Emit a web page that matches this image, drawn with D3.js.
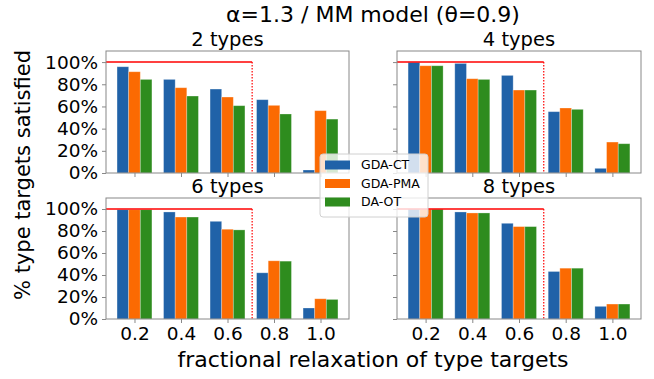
<!DOCTYPE html>
<html>
<head>
<meta charset="utf-8">
<script src="https://cdn.jsdelivr.net/npm/d3@7"></script>
<style>
  body { margin: 0; background: #fff; }
  text { font-family: "DejaVu Sans", sans-serif; }
</style>
</head>
<body>
<div id="chart"></div>
<script>
var W = 654, H = 379;

// data
var relax = ['0.2', '0.4', '0.6', '0.8', '1.0'];
var methods = ['GDA-CT', 'GDA-PMA', 'DA-OT'];
var colors = ['#2062a8', '#fb6a02', '#2e8c1e'];
var panelTitles = ['2 types', '4 types', '6 types', '8 types'];
var yTicks = [0, 0.2, 0.4, 0.6, 0.8, 1.0];

var gdaCT  = [[0.958, 0.844, 0.757, 0.661, 0.027],
              [0.998, 0.988, 0.880, 0.553, 0.042],
              [0.994, 0.973, 0.888, 0.420, 0.100],
              [0.998, 0.973, 0.870, 0.432, 0.115]];
var gdaPMA = [[0.913, 0.769, 0.685, 0.610, 0.562],
              [0.967, 0.850, 0.748, 0.586, 0.279],
              [0.994, 0.927, 0.816, 0.529, 0.184],
              [0.998, 0.964, 0.840, 0.462, 0.136]];
var daOT   = [[0.844, 0.694, 0.607, 0.532, 0.486],
              [0.967, 0.844, 0.748, 0.574, 0.264],
              [0.994, 0.927, 0.810, 0.526, 0.178],
              [0.998, 0.964, 0.840, 0.462, 0.136]];
var series = [gdaCT, gdaPMA, daOT];
var targetLevel = 1.0;
var targetCut = 2.53; // position (in category units) where the red target line stops

var panels = [
  { x0: 106, x1: 349, y0: 51,  y1: 173 },
  { x0: 397, x1: 641, y0: 51,  y1: 173 },
  { x0: 106, x1: 349, y0: 198, y1: 319 },
  { x0: 397, x1: 641, y0: 198, y1: 319 }
];

var svg = d3.select('#chart').append('svg')
    .attr('width', W)
    .attr('height', H);

var barW = 0.25;

panels.forEach(function(p, k) {
  var x = d3.scaleLinear().domain([-0.6125, 4.6125]).range([p.x0, p.x1]);
  var y = d3.scaleLinear().domain([0, 1.1]).range([p.y1, p.y0]);
  var g = svg.append('g');

  // bars
  series.forEach(function(s, j) {
    g.selectAll('.bar' + j)
      .data(s[k])
      .enter()
      .append('rect')
        .attr('x', function(d, i) { return x(i + (j - 1) * barW - barW / 2); })
        .attr('y', function(d) { return y(d); })
        .attr('width', function() { return x(barW) - x(0); })
        .attr('height', function(d) { return y(0) - y(d); })
        .attr('fill', colors[j])
        .attr('stroke', '#ffffff')
        .attr('stroke-opacity', 0.35)
        .attr('stroke-width', 0.8);
  });

  // red target line
  g.append('line')
    .attr('x1', x(-0.6125)).attr('x2', x(targetCut))
    .attr('y1', y(targetLevel)).attr('y2', y(targetLevel))
    .attr('stroke', '#ff0000').attr('stroke-width', 1.5);
  g.append('line')
    .attr('x1', x(targetCut)).attr('x2', x(targetCut))
    .attr('y1', y(targetLevel)).attr('y2', y(0))
    .attr('stroke', '#ff0000').attr('stroke-width', 1.2)
    .attr('stroke-dasharray', '1.5,1.5');

  // axes
  var bottom = k >= 2, left = k % 2 === 0;
  var xAxis = d3.axisBottom(x)
      .tickValues(d3.range(relax.length))
      .tickFormat(function(i) { return bottom ? relax[i] : ''; })
      .tickSize(4).tickSizeOuter(0).tickPadding(4);
  var gx = g.append('g')
      .attr('transform', 'translate(0,' + p.y1 + ')')
      .call(xAxis);
  var yAxis = d3.axisLeft(y)
      .tickValues(yTicks)
      .tickFormat(function(d) { return left ? Math.round(d * 100) + '%' : ''; })
      .tickSize(4).tickSizeOuter(0).tickPadding(4);
  var gy = g.append('g')
      .attr('transform', 'translate(' + p.x0 + ',0)')
      .call(yAxis);
  [gx, gy].forEach(function(a) {
    a.select('.domain').remove();
    a.selectAll('line').attr('stroke', '#888');
    a.selectAll('text').attr('fill', '#000').style('font-size', '18.5px');
  });

  // frame
  g.append('rect')
    .attr('x', p.x0).attr('y', p.y0)
    .attr('width', p.x1 - p.x0).attr('height', p.y1 - p.y0)
    .attr('fill', 'none').attr('stroke', '#888').attr('stroke-width', 1);

  g.append('text')
    .attr('x', (p.x0 + p.x1) / 2).attr('y', p.y0 - 5)
    .attr('text-anchor', 'middle')
    .style('font-size', '19.5px')
    .text(panelTitles[k]);
});

// titles
svg.append('text')
  .attr('x', 373).attr('y', 22)
  .attr('text-anchor', 'middle')
  .style('font-size', '22px')
  .text('α=1.3 / MM model (θ=0.9)');

svg.append('text')
  .attr('x', 373).attr('y', 367)
  .attr('text-anchor', 'middle')
  .style('font-size', '22px')
  .text('fractional relaxation of type targets');

svg.append('text')
  .attr('transform', 'translate(30,175)rotate(-90)')
  .attr('text-anchor', 'middle')
  .style('font-size', '21px')
  .text('% type targets satisfied');

// legend
var lg = svg.append('g').attr('transform', 'translate(320,154)');
lg.append('rect')
  .attr('width', 108).attr('height', 63)
  .attr('rx', 3)
  .attr('fill', '#fff').attr('fill-opacity', 0.8)
  .attr('stroke', '#d0d0d0');
methods.forEach(function(m, j) {
  var cy = 11 + j * 18.5;
  lg.append('rect')
    .attr('x', 5).attr('y', cy - 4.5)
    .attr('width', 25).attr('height', 9)
    .attr('fill', colors[j]);
  lg.append('text')
    .attr('x', 41).attr('y', cy)
    .attr('dy', '0.35em')
    .style('font-size', '12.5px')
    .text(m);
});
</script>
</body>
</html>
